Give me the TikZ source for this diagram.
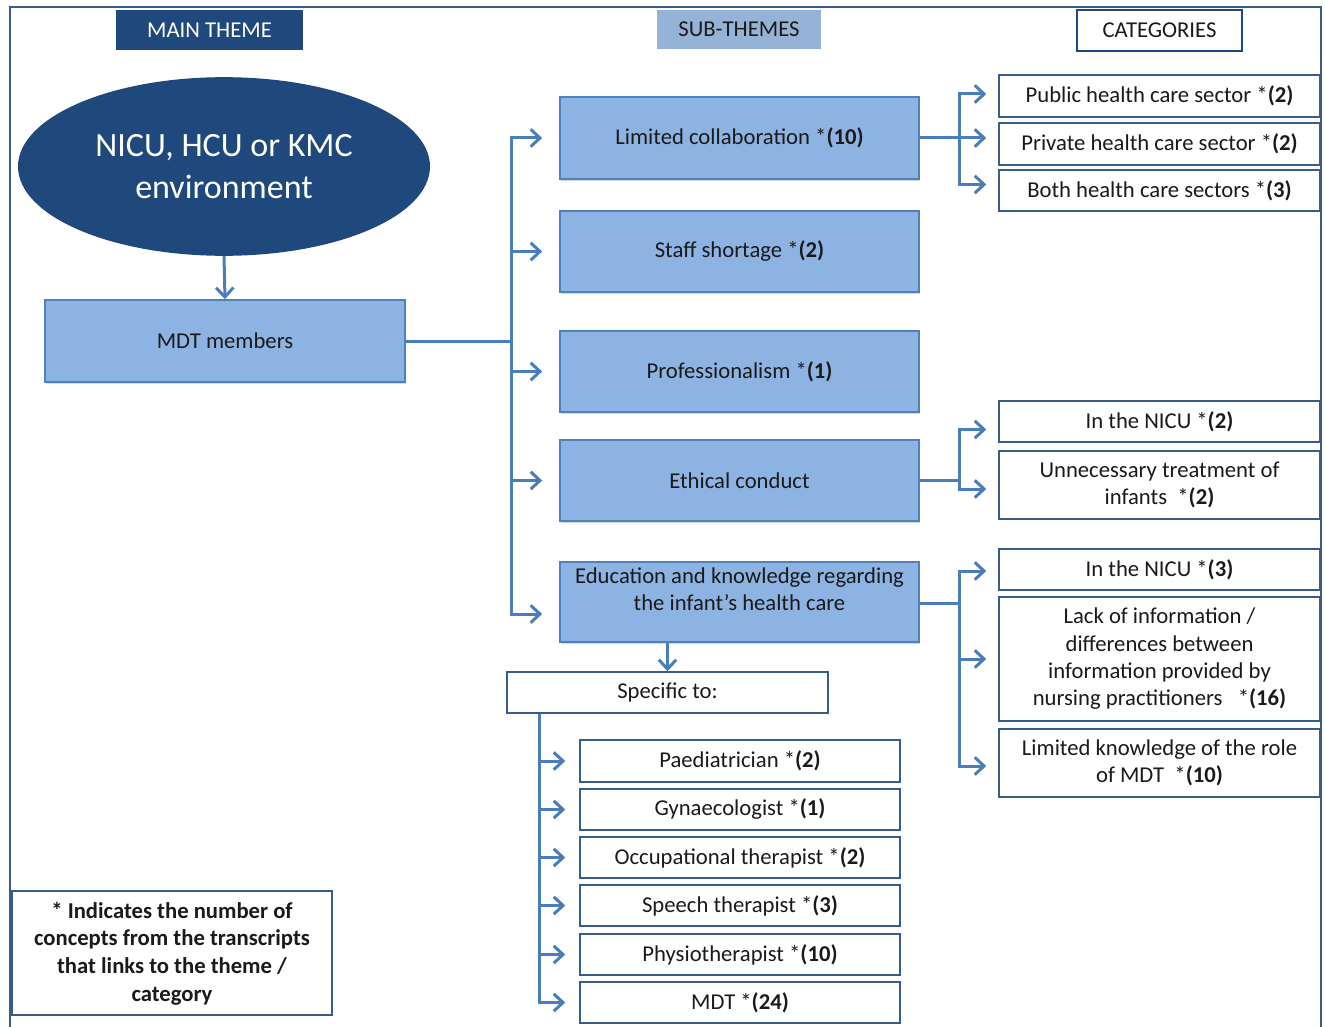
\documentclass[tikz,border=0pt]{standalone}
\usepackage{fontspec}
\setmainfont{Carlito}
\usetikzlibrary{arrows.meta,shadows,calc,shapes.geometric}
\definecolor{navy}{HTML}{1F497D}
\definecolor{boxfill}{HTML}{8DB3E2}
\definecolor{boxline}{HTML}{4F81BD}
\definecolor{headfill}{HTML}{95B3D7}
\definecolor{frameline}{HTML}{385D8A}
\definecolor{connblue}{HTML}{4A7EBB}
\definecolor{inktext}{HTML}{1A1A1A}

\tikzset{
  conn/.style={draw=connblue, line width=2.25pt},
  arr/.style={conn, -{Straight Barb[length=7pt,width=13pt]}},
  subbox/.style={draw=boxline, line width=1.2pt, fill=boxfill, inner sep=0pt,
    align=center, text=inktext,
    drop shadow={shadow xshift=1pt, shadow yshift=-1.5pt, opacity=.3}},
  catbox/.style={draw=frameline, line width=1.1pt, fill=white, inner sep=0pt,
    align=center, text=inktext},
  txt/.style={inner sep=0pt, align=center, text=inktext},
}

% box from its corners (in pixel units): style, name, x1, y1, x2, y2, text
\newcommand\cornerbox[7]{%
  \pgfmathsetmacro\bw{(#5-#3)*0.75}%
  \pgfmathsetmacro\bh{(#6-#4)*0.75}%
  \node[#1, minimum width=\bw pt, minimum height=\bh pt] (#2) at ({(#3+#5)/2},{(#4+#6)/2}) {#7};%
}

\begin{document}
\begin{tikzpicture}[x=0.75pt, y=-0.75pt, font=\fontsize{17}{20.5}\selectfont]
\useasboundingbox (0,0) rectangle (1325,1027);

% outer frame, open at the bottom
\draw[frameline, line width=1.6pt] (10,1040) -- (10,7) -- (1321,7) -- (1321,1040);

% column headings
\cornerbox{fill=navy, inner sep=0pt, text=white}{hmain}{116}{10}{303}{50}{MAIN THEME}
\cornerbox{fill=headfill, inner sep=0pt, text=inktext}{hsub}{657}{10}{821}{49}{SUB-THEMES}
\cornerbox{catbox, line width=1.4pt, draw=navy}{hcat}{1077}{10}{1242}{51}{CATEGORIES}

% main theme
\node[ellipse, fill=navy, inner sep=0pt, minimum width=309pt, minimum height=134pt,
  text=white, align=center, font=\fontsize{25.5}{31}\selectfont] (env) at (224,166.5)
  {NICU, HCU or KMC\\environment};
\cornerbox{subbox}{mdt}{45}{300}{405}{382}{MDT members}

% sub-themes
\cornerbox{subbox}{lc}{560}{97}{919}{179}{Limited collaboration *\textbf{(10)}}
\cornerbox{subbox}{ss}{560}{211}{919}{292}{Staff shortage *\textbf{(2)}}
\cornerbox{subbox}{prof}{560}{331}{919}{412}{Professionalism *\textbf{(1)}}
\cornerbox{subbox}{eth}{560}{440}{919}{521}{Ethical conduct}
\cornerbox{subbox}{edu}{560}{562}{919}{642}{}
\node[txt] (edutext) at (739.5,589.5) {Education and knowledge regarding\\the infant’s health care};

% categories
\cornerbox{catbox}{pub}{999}{75}{1320}{117}{Public health care sector *\textbf{(2)}}
\cornerbox{catbox}{priv}{999}{123}{1320}{165}{Private health care sector *\textbf{(2)}}
\cornerbox{catbox}{both}{999}{170}{1320}{211}{Both health care sectors *\textbf{(3)}}
\cornerbox{catbox}{nicuA}{999}{401}{1320}{442}{In the NICU *\textbf{(2)}}
\cornerbox{catbox}{unn}{999}{451}{1320}{519}{Unnecessary treatment of\\infants\ \ *\textbf{(2)}}
\cornerbox{catbox}{nicuB}{999}{549}{1320}{590}{In the NICU *\textbf{(3)}}
\cornerbox{catbox}{lack}{999}{597}{1320}{721}{Lack of information /\\differences between\\information provided by\\nursing practitioners\ \ \ *\textbf{(16)}}
\cornerbox{catbox}{lk}{999}{729}{1320}{797}{Limited knowledge of the role\\of MDT\ \ *\textbf{(10)}}

% specific groups
\cornerbox{catbox}{spec}{507}{672}{828}{713}{Specific to:}
\cornerbox{catbox}{paed}{580}{740}{900}{782}{Paediatrician *\textbf{(2)}}
\cornerbox{catbox}{gyn}{580}{789}{900}{830}{Gynaecologist *\textbf{(1)}}
\cornerbox{catbox}{occ}{580}{837}{900}{878}{Occupational therapist *\textbf{(2)}}
\cornerbox{catbox}{sp}{580}{885}{900}{926}{Speech therapist *\textbf{(3)}}
\cornerbox{catbox}{phys}{580}{934}{900}{975}{Physiotherapist *\textbf{(10)}}
\cornerbox{catbox}{mdtall}{580}{982}{900}{1023}{MDT *\textbf{(24)}}

% legend
\cornerbox{catbox}{legend}{12}{891}{332}{1015}{}
\node[txt, font=\fontsize{17}{20.8}\selectfont\bfseries] (legendtext) at (172,953.5)
  {* Indicates the number of\\concepts from the transcripts\\that links to the theme /\\category};

% main theme to MDT members
\draw[arr] (env.south) -- (mdt.north);

% MDT members to the sub-themes
\coordinate (trunk) at (511,341);
\coordinate (eduin) at ($(edu.west)+(0,12)$);
\draw[conn] (mdt.east) -- (trunk);
\draw[arr, shorten >=12.75pt] (trunk) |- (lc.west);
\draw[arr, shorten >=12.75pt] (trunk) |- (eduin);
\draw[arr, shorten >=12.75pt] (trunk |- ss.west) -- (ss.west);
\draw[arr, shorten >=12.75pt] (trunk |- prof.west) -- (prof.west);
\draw[arr, shorten >=12.75pt] (trunk |- eth.west) -- (eth.west);

% limited collaboration to its categories
\coordinate (bA) at (959,138);
\draw[conn] (lc.east) -- (bA);
\draw[arr, shorten >=9pt] (bA) |- ($(pub.west)+(0,-2)$);
\draw[arr, shorten >=9pt] (bA) |- ($(both.west)+(0,-6)$);
\draw[arr, shorten >=9pt] (bA) -- (bA -| priv.west);

% ethical conduct to its categories
\coordinate (bB) at (959,480.5);
\draw[conn] (eth.east) -- (bB);
\draw[arr, shorten >=9pt] (bB) |- ($(nicuA.west)+(0,8)$);
\draw[arr, shorten >=9pt] (bB) |- ($(unn.west)+(0,4)$);

% education to its categories
\coordinate (bC) at (959,603);
\draw[conn] (edu.east |- bC) -- (bC);
\draw[arr, shorten >=9pt] (bC) |- ($(nicuB.west)+(0,1.5)$);
\draw[arr, shorten >=9pt] (bC) |- ($(lk.west)+(0,3)$);
\draw[arr, shorten >=9pt] (bC |- lack.west) -- (lack.west);

% education to the specific groups
\draw[arr] (spec.north |- edu.south) -- (spec.north);
\coordinate (st) at ($(spec.south west)+(33,0)$);
\draw[arr, shorten >=10.5pt] (st) |- (mdtall.west);
\draw[arr, shorten >=10.5pt] (st |- paed.west) -- (paed.west);
\draw[arr, shorten >=10.5pt] (st |- gyn.west) -- (gyn.west);
\draw[arr, shorten >=10.5pt] (st |- occ.west) -- (occ.west);
\draw[arr, shorten >=10.5pt] (st |- sp.west) -- (sp.west);
\draw[arr, shorten >=10.5pt] (st |- phys.west) -- (phys.west);
\end{tikzpicture}
\end{document}
